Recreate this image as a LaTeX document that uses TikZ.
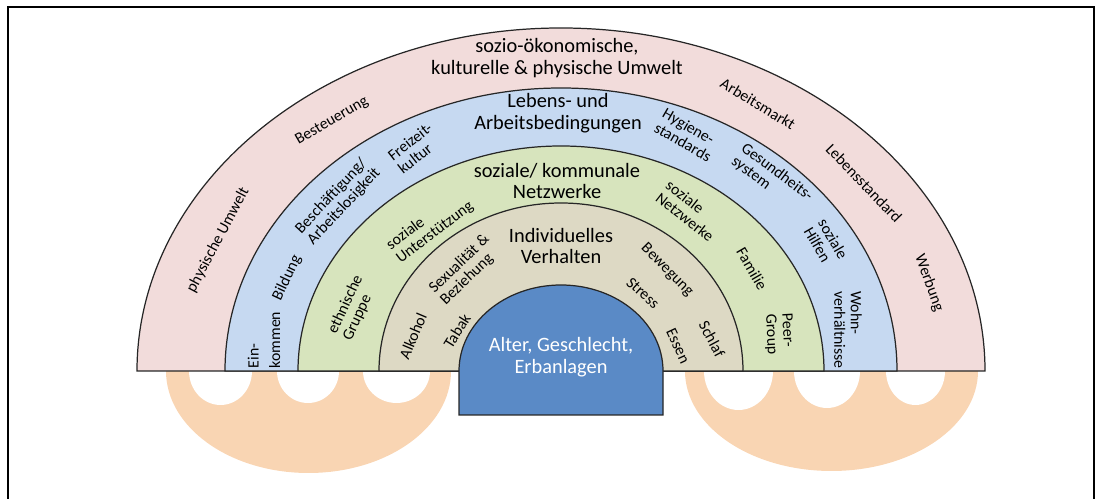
\documentclass[tikz,border=0pt]{standalone}
\usepackage{fontspec}
\setmainfont{Carlito}
\definecolor{umwelt}{HTML}{F2DCDB}
\definecolor{lebens}{HTML}{C6D9F1}
\definecolor{netz}{HTML}{D7E4BD}
\definecolor{verhalten}{HTML}{DDD9C4}
\definecolor{kern}{HTML}{5A8AC6}
\definecolor{hand}{HTML}{F9D5B3}
\tikzset{
  band/.style={draw=black!85, line width=0.7pt},
  titel/.style={font=\fontsize{11.6}{12.5}\selectfont, align=center, inner sep=0pt},
  lbl/.style={font=\fontsize{9}{9.3}\selectfont, align=left, inner sep=0pt},
}

\begin{document}
\begin{tikzpicture}[x=0.02cm, y=0.02cm]
\useasboundingbox (0,0) rectangle (1101,499);
% rahmen
\draw[line width=1.2pt] (8,-10) -- (8,492) -- (1094,492) -- (1094,-10);

% haende unten
\fill[hand] (166,128) arc[start angle=180, end angle=360, x radius=142.5, y radius=102] -- cycle;
\fill[hand] (685,128) arc[start angle=180, end angle=360, x radius=146.5, y radius=100] -- cycle;
\foreach \cx/\rx/\ry in {220.5/31.5/34, 308/31/32, 396.5/33.5/32, 738.5/34.5/39, 827/33/37, 915.5/29.5/34}
  \fill[white] ({\cx-\rx},128) arc[start angle=180, end angle=360, x radius=\rx, y radius=\ry] -- cycle;

% baender
\foreach \rx/\ry/\col in {424/343/umwelt, 336/283/lebens, 263/225/netz, 182/168/verhalten}
  \filldraw[band, fill=\col] ({561-\rx},128) arc[start angle=180, end angle=0, x radius=\rx, y radius=\ry] -- cycle;
\filldraw[band, fill=kern] (459,84) -- (459,128) arc[start angle=180, end angle=0, x radius=102, y radius=86] -- (663,84) -- cycle;

% titel
\node[titel] (umwelt) at (557,441) {sozio-ökonomische,\\kulturelle \& physische Umwelt};
\node[titel] (lebens) at (558,386) {Lebens- und\\Arbeitsbedingungen};
\node[titel] (netz) at (557,318) {soziale/ kommunale\\Netzwerke};
\node[titel] (verhalten) at (561,253) {Individuelles\\Verhalten};
\node[titel, text=white] (kern) at (561,142) {Alter, Geschlecht,\\Erbanlagen};

% umwelt
\node[lbl, rotate=62] (physisch) at (218,259) {physische Umwelt};
\node[lbl, rotate=30] (steuer) at (332,378) {Besteuerung};
\node[lbl, rotate=-31] (arbeitsmarkt) at (758,395) {Arbeitsmarkt};
\node[lbl, rotate=-46] (standard) at (864,316) {Lebensstandard};
\node[lbl, rotate=-70] (werbung) at (929,216) {Werbung};

% lebens- und arbeitsbedingungen
\node[lbl, rotate=90] (einkommen) at (264,159) {Ein-\\[3pt]kommen};
\node[lbl, rotate=65] (bildung) at (287,221) {Bildung};
\node[lbl, rotate=47] (beschaeftigung) at (338,298) {Beschäftigung/\\Arbeitslosigkeit};
\node[lbl, rotate=38] (freizeit) at (415,351) {Freizeit-\\kultur};
\node[lbl, rotate=-30] (hygiene) at (687,364) {Hygiene-\\standards};
\node[lbl, rotate=-37] (gesundheit) at (772,320) {Gesundheits-\\system};
\node[lbl, rotate=-60] (hilfen) at (826,256) {soziale\\Hilfen};
\node[lbl, rotate=-90] (wohnen) at (848,169) {Wohn-\\verhältnisse};

% netzwerke
\node[lbl, rotate=65] (ethnisch) at (353,191) {ethnische\\Gruppe};
\node[lbl, rotate=37] (unterstuetzung) at (430,273) {soziale\\Unterstützung};
\node[lbl, rotate=-38] (sozialnetz) at (690,288) {soziale\\Netzwerke};
\node[lbl, rotate=-60] (familie) at (752,230) {Familie};
\node[lbl, rotate=-87] (peer) at (779,165) {Peer-\\Group};

% verhalten
\node[lbl, rotate=67] (alkohol) at (413,163) {Alkohol};
\node[lbl, rotate=58] (tabak) at (457,168) {Tabak};
\node[lbl, rotate=44] (sexualitaet) at (465,229) {Sexualität \&\\Beziehung};
\node[lbl, rotate=-45] (bewegung) at (667,229) {Bewegung};
\node[lbl, rotate=-42] (stress) at (643,206) {Stress};
\node[lbl, rotate=-62] (schlaf) at (712,160) {Schlaf};
\node[lbl, rotate=-65] (essen) at (678,153) {Essen};
\end{tikzpicture}
\end{document}
